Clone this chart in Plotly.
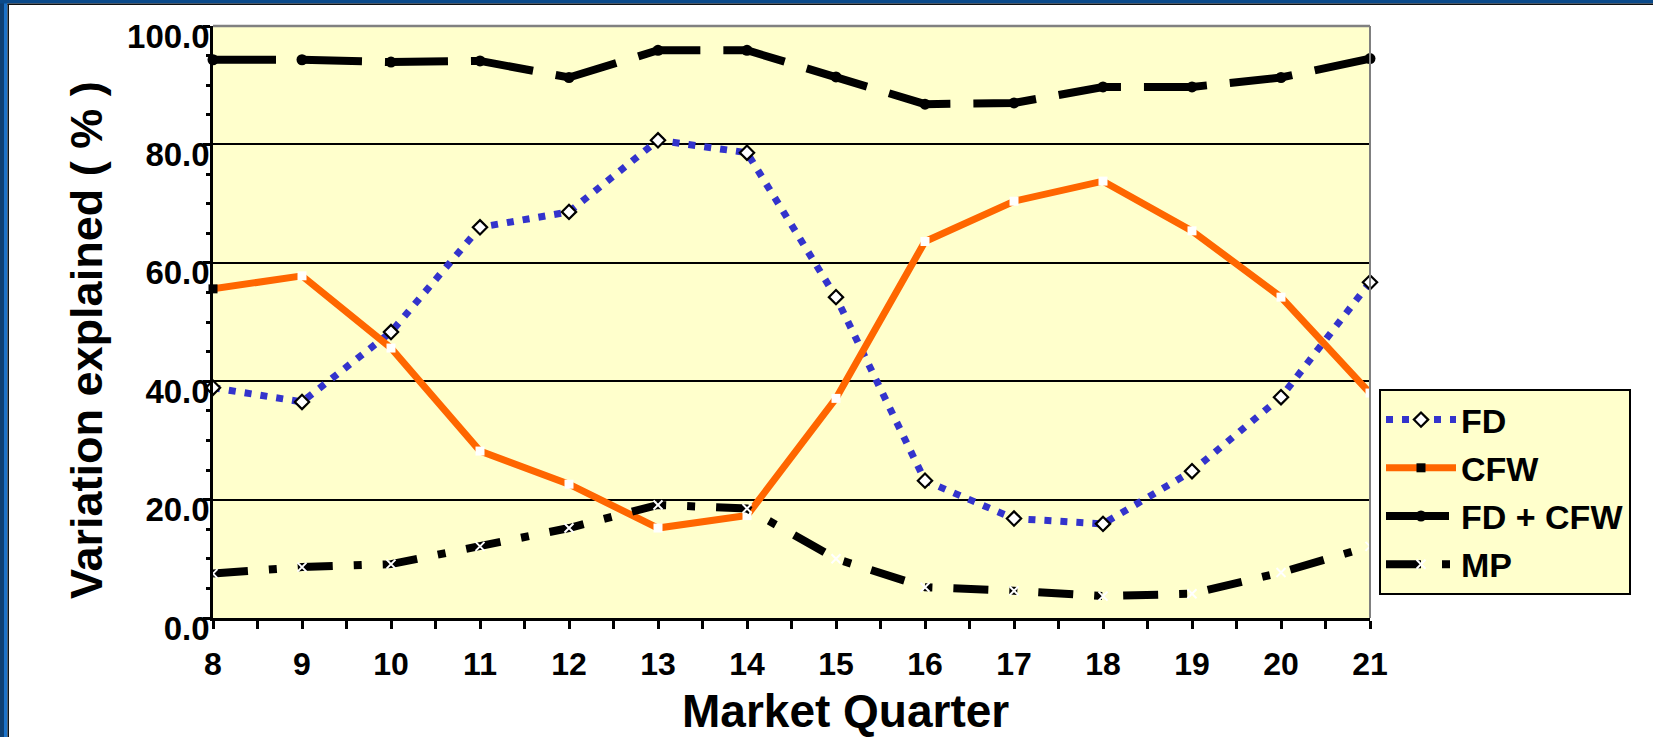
import plotly.graph_objects as go

quarters = [8, 9, 10, 11, 12, 13, 14, 15, 16, 17, 18, 19, 20, 21]
fd = [38.9, 36.5, 48.3, 66.0, 68.6, 80.7, 78.6, 54.2, 23.2, 16.8, 15.9, 24.8, 37.3, 56.7]
cfw = [55.6, 57.8, 45.6, 28.2, 22.6, 15.2, 17.3, 37.1, 63.6, 70.4, 73.8, 65.4, 54.2, 38.0]
fd_cfw = [94.3, 94.3, 93.9, 94.1, 91.3, 95.9, 95.9, 91.4, 86.8, 87.0, 89.7, 89.7, 91.3, 94.5]
mp = [7.5, 8.6, 9.1, 12.1, 15.2, 19.1, 18.5, 10.0, 5.2, 4.6, 3.7, 4.1, 7.7, 12.1]
y_ticks = [0, 20, 40, 60, 80, 100]

FONT = "Liberation Sans, Arial, sans-serif"
W, H = 1653, 737
L, R, T, B = 213, 1370, 26, 618
pw, ph = R - L, B - T


def px(xp):
    return (xp - L) / pw


def py(yp):
    return (B - yp) / ph


fig = go.Figure()

fig.add_trace(go.Scatter(
    x=quarters, y=fd, name="FD", mode="lines+markers", cliponaxis=False,
    line=dict(color="#3333CC", width=7, dash="7px,9px"),
    marker=dict(symbol="diamond", size=11, color="white",
                line=dict(color="black", width=2.2)),
    legendgroup="a"))
cfw_colors = ["black"] + ["white"] * (len(quarters) - 1)
fig.add_trace(go.Scatter(
    x=quarters, y=cfw, name="CFW", mode="lines+markers", cliponaxis=False,
    line=dict(color="#FF6600", width=7),
    marker=dict(symbol="square", size=9, color=cfw_colors),
    legendgroup="b"))
fig.add_trace(go.Scatter(
    x=quarters, y=fd_cfw, name="FD + CFW", mode="lines+markers", cliponaxis=False,
    line=dict(color="black", width=8, dash="63px,23px"),
    marker=dict(symbol="circle", size=11, color="black"),
    legendgroup="c"))
fig.add_trace(go.Scatter(
    x=quarters, y=mp, name="MP", mode="lines+markers", cliponaxis=False,
    line=dict(color="black", width=8, dash="35px,21px,8px,21px"),
    marker=dict(symbol="x-thin", size=9, color="white",
                line=dict(color="white", width=2)),
    legendgroup="d"))

shapes = [
    # grey top and right plot borders
    dict(type="line", xref="paper", yref="paper", x0=0, x1=1, y0=1, y1=1,
         line=dict(color="#808080", width=2.5), layer="above"),
    dict(type="line", xref="paper", yref="paper", x0=1, x1=1, y0=0, y1=1,
         line=dict(color="#808080", width=2), layer="above"),
    # blue frame: left band
    dict(type="rect", xref="paper", yref="paper", x0=px(0), x1=px(4), y0=py(H), y1=py(0),
         fillcolor="#0d3f73", line=dict(width=0), layer="above"),
    dict(type="rect", xref="paper", yref="paper", x0=px(4), x1=px(7.5), y0=py(H), y1=py(0),
         fillcolor="#1b72c9", line=dict(width=0), layer="above"),
    dict(type="rect", xref="paper", yref="paper", x0=px(7.5), x1=px(9), y0=py(H), y1=py(4),
         fillcolor="#111111", line=dict(width=0), layer="above"),
    # top band
    dict(type="rect", xref="paper", yref="paper", x0=px(0), x1=px(W), y0=py(3.5), y1=py(0),
         fillcolor="#0b4a8a", line=dict(width=0), layer="above"),
    dict(type="rect", xref="paper", yref="paper", x0=px(7.5), x1=px(W), y0=py(5), y1=py(3.5),
         fillcolor="#111111", line=dict(width=0), layer="above"),
]

annotations = [
    dict(text="Variation explained ( % )", xref="paper", yref="paper",
         x=px(86), y=py(340), xanchor="center", yanchor="middle", textangle=-90,
         showarrow=False, font=dict(family=FONT, size=45, color="black", weight="bold")),
    dict(text="Market Quarter", xref="paper", yref="paper",
         x=px(845), y=py(711), xanchor="center", yanchor="middle",
         showarrow=False, font=dict(family=FONT, size=46, color="black", weight="bold")),
]

fig.update_layout(
    width=W, height=H,
    margin=dict(l=L, r=W - R, t=T, b=H - B, pad=0, autoexpand=False),
    paper_bgcolor="white", plot_bgcolor="#FFFFCC",
    showlegend=True,
    legend=dict(x=px(1379), y=py(389), xanchor="left", yanchor="top",
                bgcolor="#FFFFCC", bordercolor="black", borderwidth=2,
                font=dict(family=FONT, size=34, color="black", weight="bold"),
                itemwidth=70, tracegroupgap=1, traceorder="grouped"),
    shapes=shapes, annotations=annotations,
    xaxis=dict(range=[8, 21], tickvals=quarters, ticktext=[str(q) for q in quarters],
               automargin=False,
               showgrid=False, zeroline=False, showline=True, linecolor="black", linewidth=2.5,
               ticks="outside", ticklen=8, tickwidth=2.5, tickcolor="black",
               minor=dict(dtick=0.5, ticks="outside", ticklen=8, tickwidth=2.5, tickcolor="black"),
               ticklabelstandoff=8,
               tickfont=dict(family=FONT, size=32, color="black", weight="bold")),
    yaxis=dict(range=[0, 100], tickvals=y_ticks, tickformat=".1f",
               automargin=False,
               showgrid=True, gridcolor="black", gridwidth=2,
               zeroline=False, showline=True, linecolor="black", linewidth=2.5,
               ticks="outside", ticklen=7, tickwidth=2.5, tickcolor="black",
               minor=dict(dtick=5, ticks="outside", ticklen=4, tickwidth=2.5, tickcolor="black",
                          showgrid=False),
               ticklabelshift=10, ticklabelstandoff=-13, ticklabeloverflow="allow",
               tickfont=dict(family=FONT, size=33, color="black", weight="bold")),
)

fig.write_html("out.html")
